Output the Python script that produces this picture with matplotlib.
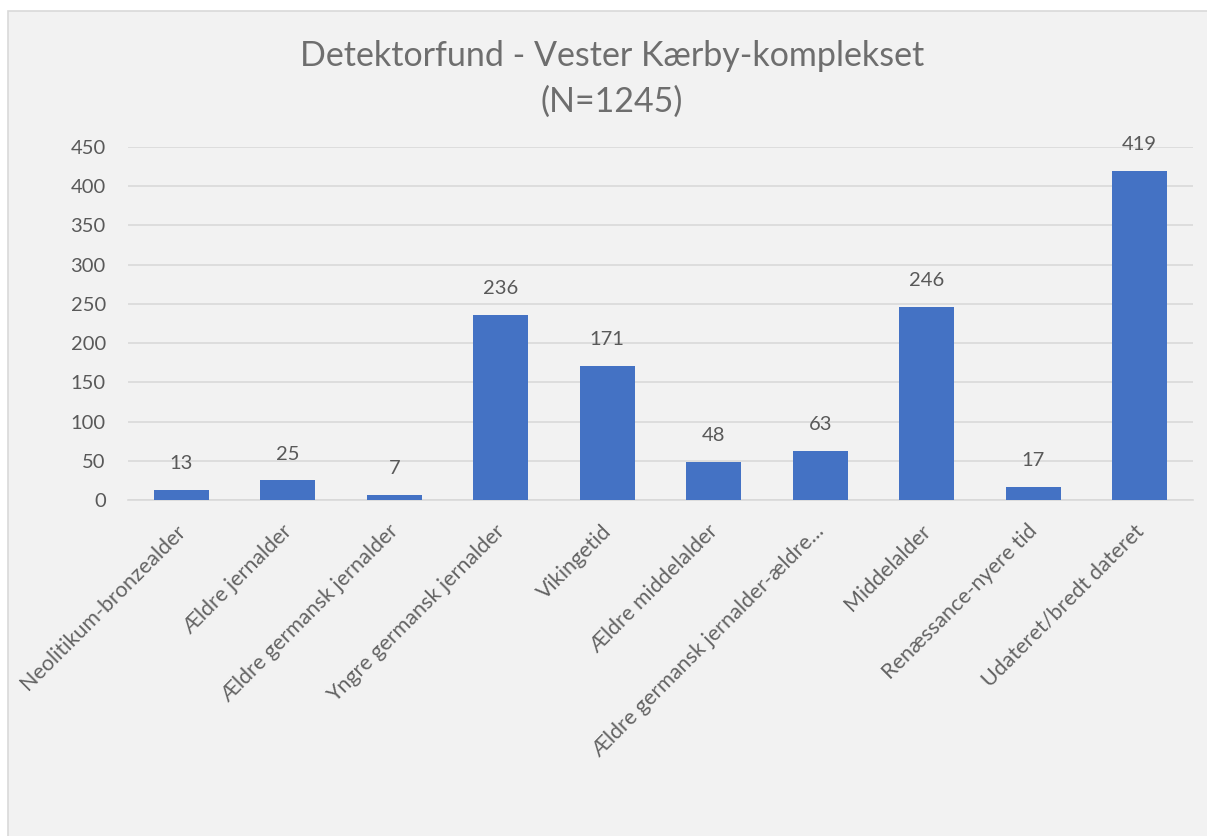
import numpy as np
import matplotlib.pyplot as plt
import matplotlib.transforms as mtransforms
from matplotlib.patches import Rectangle

plt.rcParams['font.family'] = ['Lato', 'DejaVu Sans']

# data
categories = ["Neolitikum-bronzealder", "Ældre jernalder", "Ældre germansk jernalder",
              "Yngre germansk jernalder", "Vikingetid", "Ældre middelalder",
              "Ældre germansk jernalder-ældre...", "Middelalder",
              "Renæssance-nyere tid", "Udateret/bredt dateret"]
counts = [13, 25, 7, 236, 171, 48, 63, 246, 17, 419]
yticks = [0, 50, 100, 150, 200, 250, 300, 350, 400, 450]

W, H = 1207, 836
fig = plt.figure(figsize=(W / 100, H / 100), dpi=100, facecolor='white')

# grey chart panel with thin border, kept behind the axes
panel = Rectangle((8 / W, -0.01), 1.02, 1 - 11 / H + 0.01, transform=fig.transFigure,
                  facecolor='#f2f2f2', edgecolor='#d9d9d9', lw=1.2, zorder=-10)
fig.patches.append(panel)

ax = fig.add_axes([128 / W, 1 - 500 / H, (1193 - 128) / W, (500 - 147) / H])
ax.set_facecolor('none')
ax.set_zorder(5)

x = np.arange(len(categories))
ax.bar(x, counts, width=0.52, color='#4472c4', zorder=3)
# value labels ~26 px above each bar
for xi, v in zip(x, counts):
    ax.annotate(str(v), (xi, v), xytext=(0, 19), textcoords='offset points',
                ha='center', va='center', fontsize=14.5, color='#595959')

ax.set_xlim(-0.5, len(categories) - 0.5)
ax.set_ylim(0, 450)
ax.set_yticks(yticks)
ax.yaxis.grid(True, color='#d9d9d9', lw=1.2, zorder=0)
ax.tick_params(axis='y', length=0, pad=16, labelsize=14.5, labelcolor='#595959')
ax.tick_params(axis='x', length=0, pad=15)
ax.set_xticks(x)
ax.set_xticklabels(categories, rotation=45, ha='right', rotation_mode='anchor',
                   fontsize=15.5, color='#636363')
# nudge rotated labels a little to the left
shift = mtransforms.ScaledTranslation(-6 / 100, 0, fig.dpi_scale_trans)
for lab in ax.get_xticklabels():
    lab.set_transform(lab.get_transform() + shift)
for s in ['top', 'right', 'left']:
    ax.spines[s].set_visible(False)
ax.spines['bottom'].set_color('#d9d9d9')
ax.spines['bottom'].set_linewidth(1.2)

fig.text(612 / W, 1 - 56 / H, "Detektorfund - Vester Kærby-komplekset", ha='center', va='center',
         fontsize=24.5, color='#6e6e6e')
fig.text(612 / W, 1 - 102 / H, "(N=1245)", ha='center', va='center',
         fontsize=24.5, color='#6e6e6e')

fig.savefig('out.png', dpi=100, facecolor='white')
